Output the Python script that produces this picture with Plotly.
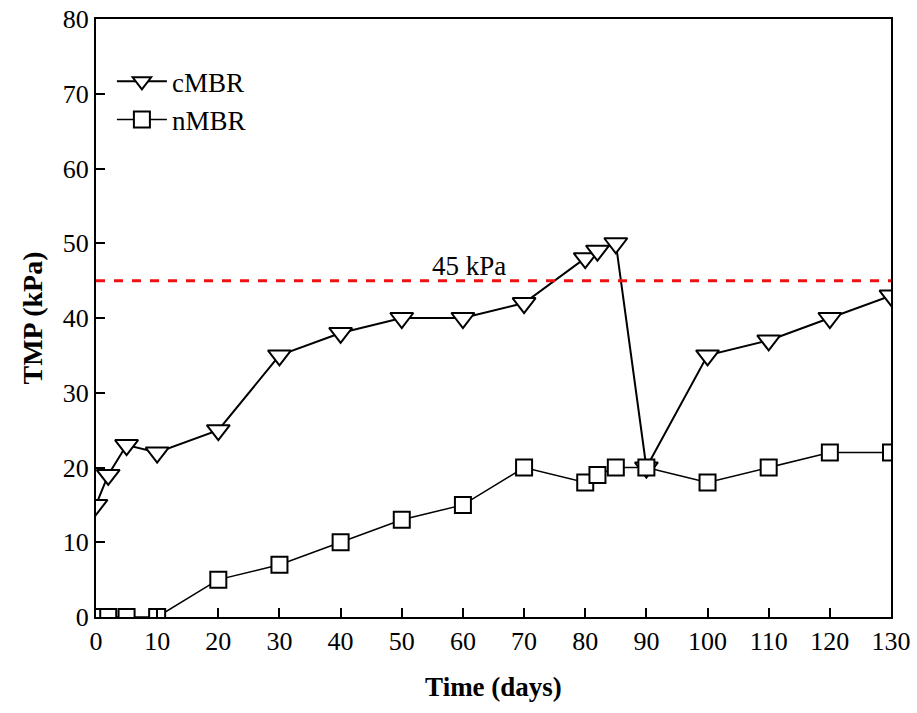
import plotly.graph_objects as go

days = [0, 2, 5, 10, 20, 30, 40, 50, 60, 70, 80, 82, 85, 90, 100, 110, 120, 130]
cmbr = [15, 19, 23, 22, 25, 35, 38, 40, 40, 42, 48, 49, 50, 20, 35, 37, 40, 43]
nmbr_days = [0, 2, 5, 10, 20, 30, 40, 50, 60, 70, 80, 82, 85, 90, 100, 110, 120, 130]
nmbr = [0, 0, 0, 0, 5, 7, 10, 13, 15, 20, 18, 19, 20, 20, 18, 20, 22, 22]
limit = 45
x_ticks = list(range(0, 131, 10))
y_ticks = list(range(0, 81, 10))

FONT = "Liberation Serif, Times New Roman, serif"

fig = go.Figure()
fig.add_trace(go.Scatter(
    x=days, y=cmbr, name="cMBR", mode="lines+markers",
    line=dict(color="black", width=2),
    marker=dict(symbol="triangle-down", size=20, color="white",
                line=dict(color="black", width=2)),
    cliponaxis=True,
))
fig.add_trace(go.Scatter(
    x=nmbr_days, y=nmbr, name="nMBR", mode="lines+markers",
    line=dict(color="black", width=1.5),
    marker=dict(symbol="square", size=16, color="white",
                line=dict(color="black", width=2)),
    cliponaxis=True,
))
fig.add_shape(type="line", xref="x", yref="y", x0=0, x1=130, y0=limit, y1=limit,
              line=dict(color="#ee1111", width=3, dash="dash"))
fig.add_annotation(x=61, y=limit, text="45 kPa", showarrow=False,
                   yanchor="bottom", yshift=-2,
                   font=dict(family=FONT, size=27, color="black"))

axis_common = dict(
    showgrid=False, zeroline=False, showline=True, linecolor="black", linewidth=2,
    mirror=True, ticks="inside", ticklen=9, tickwidth=1.5, tickcolor="black",
    tickfont=dict(family=FONT, size=26, color="black"), automargin=False,
)
fig.update_xaxes(range=[0, 130], tickvals=x_ticks,
                 title=dict(text="<b>Time (days)</b>", font=dict(family=FONT, size=27, color="black"),
                            standoff=22),
                 **axis_common)
fig.update_yaxes(range=[0, 80], tickvals=y_ticks,
                 title=dict(text="<b>TMP (kPa)</b>", font=dict(family=FONT, size=28, color="black"),
                            standoff=12),
                 **axis_common)
fig.update_layout(
    width=917, height=713,
    margin=dict(l=96, r=26, t=19, b=96),
    paper_bgcolor="white", plot_bgcolor="white",
    showlegend=True,
    legend=dict(x=0.02, y=0.936, xanchor="left", yanchor="top",
                bgcolor="rgba(0,0,0,0)", font=dict(family=FONT, size=27, color="black"),
                itemwidth=50, tracegroupgap=0),
)
fig.write_html("out.html")
